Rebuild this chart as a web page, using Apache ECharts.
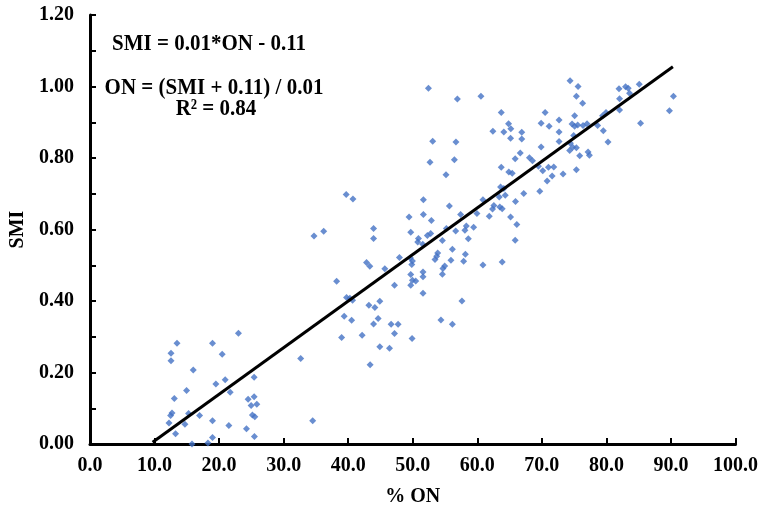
<!DOCTYPE html>
<html>
<head>
<meta charset="utf-8">
<script src="https://cdn.jsdelivr.net/npm/echarts@6/dist/echarts.min.js"></script>
<style>
  html, body { margin: 0; padding: 0; background: #fff; }
  #main { width: 761px; height: 516px; }
</style>
</head>
<body>
<div id="main"></div>
<script>
/* 数据 : % ON 与 SMI */
var onValues = [
  13.48, 12.55, 12.55, 18.98, 23.0, 20.48, 16.0, 32.64, 20.94, 19.5,
  25.43, 14.96, 21.72, 13.06, 24.5, 25.43, 24.96, 25.84, 12.7, 12.49,
  15.27, 16.97, 25.16, 25.53, 12.24, 14.71, 18.98, 21.51, 34.5, 13.26,
  24.24, 25.47, 18.98, 18.27, 15.8,
  55.15, 39.69, 40.73, 51.65, 55.67, 49.43, 51.65, 52.89, 57.42, 60.87,
  63.6, 64.11, 64.88, 65.41, 67.2, 69.68, 70.14, 70.82, 71.59, 64.33,
  63.4, 65.92, 62.57, 63.49, 63.86, 62.36, 59.94, 61.85, 65.15, 66.12,
  65.87, 63.86, 60.87, 59.43, 58.3, 58.08, 58.61, 56.65, 55.21, 58.15,
  56.14, 57.88, 55.92, 54.59, 53.86, 53.71, 53.45, 54.95, 54.68, 54.59,
  52.78, 52.27, 51.55, 50.88, 50.77, 49.69, 51.59, 51.59, 49.64, 49.95,
  49.85, 49.69, 49.95, 50.46, 49.69, 47.94, 45.67, 47.17, 51.59, 57.62,
  43.93, 43.93, 34.7, 36.2, 42.84, 43.35, 38.21, 39.75, 40.26, 40.68,
  43.2, 44.13, 44.9, 39.38, 40.53, 44.64, 43.93, 46.65, 47.73, 47.17,
  42.16, 38.98, 49.89, 44.9, 46.4, 54.37, 56.14, 43.4,
  52.43, 56.91, 60.56, 63.71, 64.84, 65.19, 64.11, 62.41, 65.15, 66.89,
  66.89, 70.51, 69.89, 71.13, 72.67, 72.67, 72.67, 53.09, 56.69, 52.67,
  56.45, 66.65, 65.87, 68.08, 68.55, 69.89, 63.71, 69.47, 71.02, 71.84,
  74.37, 75.61, 75.35, 76.32, 75.08, 74.68, 75.08, 75.55, 76.38, 77.0,
  74.93, 78.64, 79.52, 79.41, 79.94, 81.95, 82.97, 83.38, 85.09, 83.59,
  82.04, 82.04, 90.39, 89.77, 85.29, 80.25, 74.42, 74.78, 75.35, 74.31,
  77.16, 77.36, 75.86, 75.35, 73.29
];
var smiValues = [
  0.282, 0.254, 0.233, 0.282, 0.310, 0.251, 0.207, 0.239, 0.180, 0.168,
  0.187, 0.150, 0.145, 0.127, 0.125, 0.132, 0.108, 0.111, 0.087, 0.080,
  0.085, 0.080, 0.081, 0.076, 0.059, 0.055, 0.065, 0.052, 0.065, 0.029,
  0.043, 0.021, 0.018, 0.003, 0.000,
  0.753, 0.698, 0.685, 0.683, 0.666, 0.635, 0.642, 0.625, 0.642, 0.683,
  0.719, 0.715, 0.761, 0.757, 0.701, 0.707, 0.764, 0.736, 0.750, 0.696,
  0.691, 0.678, 0.667, 0.663, 0.658, 0.657, 0.645, 0.637, 0.635, 0.614,
  0.570, 0.509, 0.501, 0.606, 0.610, 0.598, 0.574, 0.596, 0.603, 0.531,
  0.545, 0.511, 0.514, 0.569, 0.534, 0.525, 0.516, 0.498, 0.491, 0.475,
  0.589, 0.583, 0.559, 0.575, 0.565, 0.592, 0.481, 0.468, 0.520, 0.512,
  0.502, 0.474, 0.458, 0.456, 0.444, 0.522, 0.490, 0.444, 0.422, 0.400,
  0.603, 0.575, 0.582, 0.595, 0.508, 0.497, 0.455, 0.410, 0.408, 0.402,
  0.388, 0.382, 0.399, 0.357, 0.346, 0.351, 0.336, 0.335, 0.335, 0.309,
  0.304, 0.298, 0.295, 0.272, 0.268, 0.347, 0.335, 0.222,
  0.995, 0.965, 0.973, 0.927, 0.896, 0.882, 0.873, 0.875, 0.855, 0.872,
  0.853, 0.927, 0.897, 0.889, 0.906, 0.873, 0.846, 0.847, 0.845, 0.788,
  0.795, 0.814, 0.798, 0.801, 0.792, 0.831, 0.774, 0.777, 0.774, 0.775,
  1.016, 1.000, 0.973, 0.953, 0.918, 0.895, 0.889, 0.892, 0.891, 0.896,
  0.863, 0.891, 0.876, 0.918, 0.927, 0.994, 0.999, 0.995, 1.006, 0.981,
  0.966, 0.934, 0.973, 0.932, 0.897, 0.845, 0.841, 0.830, 0.829, 0.821,
  0.817, 0.808, 0.806, 0.767, 0.755
];
/* 趋势线两端 */
var trendOn = [9.7, 90.3];
var trendSmi = [0.005, 1.055];
var equationLines = ['SMI = 0.01*ON - 0.11', 'ON = (SMI + 0.11) / 0.01', 'R\u00b2 = 0.84'];

var points = [];
for (var i = 0; i < onValues.length; i++) {
  points.push([onValues[i], smiValues[i]]);
}
var trendData = [[trendOn[0], trendSmi[0]], [trendOn[1], trendSmi[1]]];

var FONT = '"Liberation Serif", "Times New Roman", serif';
var labelStyle = { fontFamily: FONT, fontWeight: 'bold', fontSize: 20, color: '#000' };

/* 公式文字 */
function eqText(str, cx, cy) {
  return {
    type: 'text', x: cx, y: cy, scaleY: 1.08,
    style: { text: str, align: 'center', verticalAlign: 'middle', font: 'bold 21px ' + FONT, fill: '#000' }
  };
}

var myChart = echarts.init(document.getElementById('main'), null, { renderer: 'canvas' });
var option = {
  backgroundColor: '#fff',
  animation: false,
  grid: { left: 89, right: 25, top: 15, bottom: 72 },
  xAxis: {
    type: 'value',
    min: 0, max: 100, interval: 10,
    name: '% ON',
    nameLocation: 'middle',
    nameGap: 43,
    nameTextStyle: labelStyle,
    axisLine: { lineStyle: { color: '#000', width: 3 } },
    axisTick: { inside: true, length: 6, lineStyle: { color: '#000', width: 2 } },
    axisLabel: Object.assign({ margin: 12, formatter: function (v) { return v.toFixed(1); } }, labelStyle),
    splitLine: { show: false }
  },
  yAxis: {
    type: 'value',
    min: 0, max: 1.2, interval: 0.1,
    name: 'SMI',
    nameLocation: 'middle',
    nameRotate: 90,
    nameGap: 62,
    nameTextStyle: labelStyle,
    axisLine: { show: true, lineStyle: { color: '#000', width: 3 } },
    axisTick: { show: true, inside: true, length: 6, lineStyle: { color: '#000', width: 2 } },
    axisLabel: Object.assign({
      margin: 16,
      formatter: function (v) {
        var k = Math.round(v * 10);
        return k % 2 === 0 ? v.toFixed(2) : '';
      }
    }, labelStyle),
    splitLine: { show: false }
  },
  graphic: [
    eqText(equationLines[0], 209, 44),
    eqText(equationLines[1], 214, 88),
    eqText(equationLines[2], 216, 109)
  ],
  series: [
    {
      name: 'SMI',
      type: 'scatter',
      symbol: 'diamond',
      symbolSize: 7,
      itemStyle: { color: '#4472C4' },
      data: points,
      z: 2
    },
    {
      name: 'trend',
      type: 'line',
      data: trendData,
      symbol: 'none',
      lineStyle: { color: '#000', width: 3 },
      z: 3
    }
  ]
};
myChart.setOption(option);
</script>
</body>
</html>
